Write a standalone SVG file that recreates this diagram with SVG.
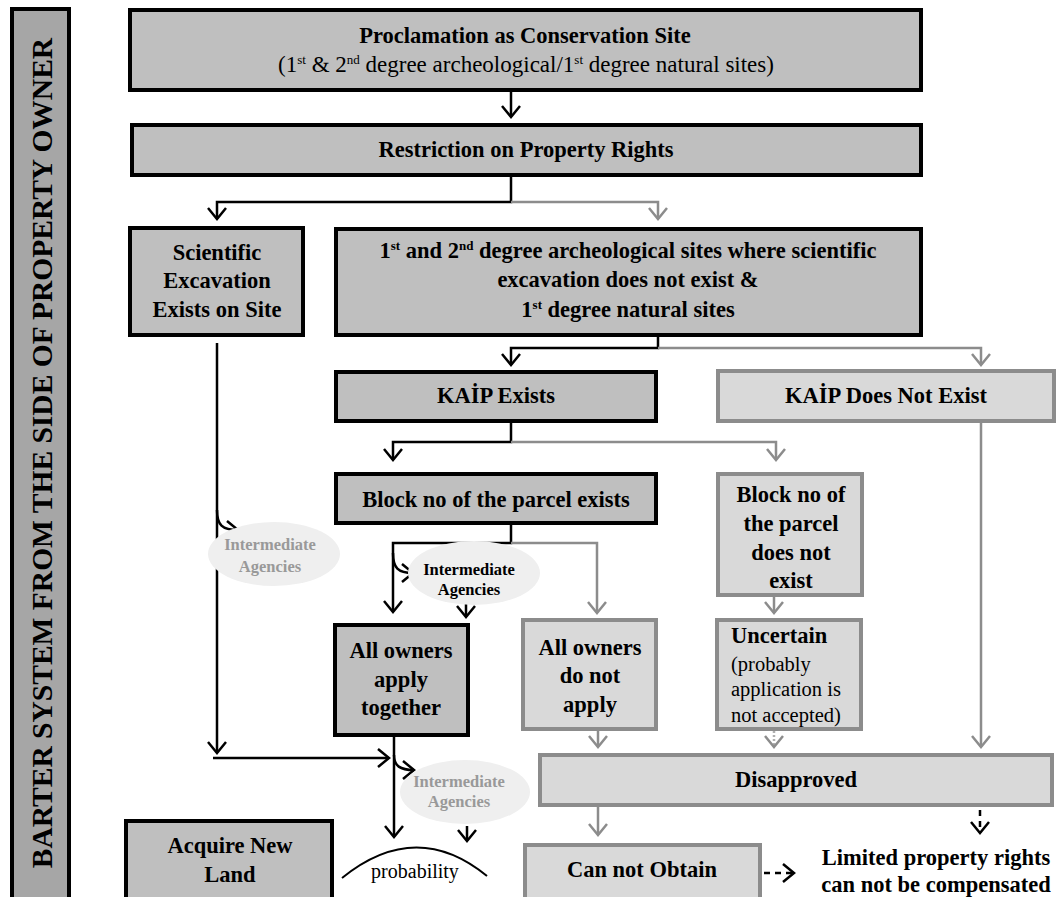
<svg xmlns="http://www.w3.org/2000/svg" width="1058" height="897" viewBox="0 0 1058 897" font-family="'Liberation Serif', 'Times New Roman', serif">
  <style>
    text { font-family: "Liberation Serif", "Times New Roman", serif; fill: #000; }
    .b { font-weight: bold; font-size: 22.5px; }
    .r { font-size: 23px; }
    .mid { text-anchor: middle; }
    .sup { font-size: 13px; }
    .dark { fill: #bfbfbf; stroke: #000; stroke-width: 4; }
    .light { fill: #d9d9d9; stroke: #8c8c8c; stroke-width: 4; }
    .side { fill: #a6a6a6; stroke: #000; stroke-width: 4; }
    .agency { fill: #efefef; stroke: none; }
    .ag-t { font-weight: bold; font-size: 16.5px; text-anchor: middle; }
    .ag-grey { fill: #999; }
    .k { fill: none; stroke: #000; stroke-width: 2.5; marker-end: url(#ak); }
    .g { fill: none; stroke: #8c8c8c; stroke-width: 2.5; marker-end: url(#ag); }
    .dot { stroke: #b0b0b0; stroke-dasharray: 2 2; }
    .dash { stroke-dasharray: 6 5; }
  </style>
  <defs>
    <marker id="ak" viewBox="-13 -11 15 22" refX="0" refY="0" markerWidth="15" markerHeight="22" markerUnits="userSpaceOnUse" orient="auto">
      <path d="M-11,-9 L0,0 L-11,9" fill="none" stroke="#000" stroke-width="2.5"/>
    </marker>
    <marker id="ag" viewBox="-13 -11 15 22" refX="0" refY="0" markerWidth="15" markerHeight="22" markerUnits="userSpaceOnUse" orient="auto">
      <path d="M-11,-9 L0,0 L-11,9" fill="none" stroke="#8c8c8c" stroke-width="2.5"/>
    </marker>
  </defs>

  <rect width="1058" height="897" fill="#fff"/>

  <!-- vertical title bar -->
  <g id="side-title">
    <rect class="side" x="12" y="9" width="57" height="900"/>
    <text class="b mid" style="font-size:29.5px" transform="translate(52,453) rotate(-90)">BARTER SYSTEM FROM THE SIDE OF PROPERTY OWNER</text>
  </g>

  <!-- connectors -->
  <g id="connectors">
    <path class="k" d="M511,92 V117"/>
    <path class="k" d="M511,177 V202 H217 V219"/>
    <path class="g" d="M511,202 H658 V219"/>
    <path class="k" d="M658,337 V348 H511 V365"/>
    <path class="g" d="M658,348 H981 V365"/>
    <path class="k" d="M511,423 V442 H393 V460"/>
    <path class="g" d="M511,442 H776 V460"/>
    <path class="g" d="M981,423 V747"/>
    <path class="k" d="M511,525 V543 H393 V612"/>
    <path class="g" d="M511,543 H597 V613"/>
    <path class="k" d="M393,553 C393,568 398,573 413,573"/>
    <path class="k" d="M466,604 V617"/>
    <path class="k" d="M217,343 V753"/>
    <path class="k" d="M217,510 C217,525 222,530 238,530"/>
    <path class="k" d="M213,758 H389"/>
    <path class="k" d="M394,737 V837"/>
    <path class="k" d="M394,755 C394,766 400,770 414,770"/>
    <path class="k" d="M467,826 V841"/>
    <path class="g" d="M774,597 V613"/>
    <path class="g" d="M598,731 V747"/>
    <path class="g dot" d="M774,731 V747"/>
    <path class="g" d="M598,807 V835"/>
    <path class="k dash" d="M980,810 V833"/>
    <path class="k dash" d="M764,873 H794"/>
    <path d="M342,878 Q416,818 487,876" fill="none" stroke="#000" stroke-width="2"/>
  </g>

  <g id="proclamation">
    <rect class="dark" x="130" y="10" width="791" height="80"/>
    <text class="b mid" x="525" y="43">Proclamation as Conservation Site</text>
    <text class="r mid" x="526" y="72">(1<tspan class="sup" dy="-8">st</tspan><tspan dy="8"> &amp; 2</tspan><tspan class="sup" dy="-8">nd</tspan><tspan dy="8"> degree archeological/1</tspan><tspan class="sup" dy="-8">st</tspan><tspan dy="8"> degree natural sites)</tspan></text>
  </g>

  <g id="restriction">
    <rect class="dark" x="132" y="125" width="789" height="50"/>
    <text class="b mid" x="526" y="157">Restriction on Property Rights</text>
  </g>

  <g id="scientific-excavation">
    <rect class="dark" x="130" y="228" width="173" height="107"/>
    <text class="b mid" x="217" y="260">Scientific</text>
    <text class="b mid" x="217" y="288">Excavation</text>
    <text class="b mid" x="217" y="317">Exists on Site</text>
  </g>

  <g id="no-excavation-sites">
    <rect class="dark" x="336" y="229" width="585" height="106"/>
    <text class="b mid" x="628" y="258">1<tspan class="sup" dy="-8">st</tspan><tspan dy="8"> and 2</tspan><tspan class="sup" dy="-8">nd</tspan><tspan dy="8"> degree archeological sites where scientific</tspan></text>
    <text class="b mid" x="628" y="287">excavation does not exist &amp;</text>
    <text class="b mid" x="628" y="317">1<tspan class="sup" dy="-8">st</tspan><tspan dy="8"> degree natural sites</tspan></text>
  </g>

  <g id="kaip-exists">
    <rect class="dark" x="336" y="372" width="320" height="49"/>
    <text class="b mid" x="496" y="403">KAİP Exists</text>
  </g>

  <g id="kaip-not-exist">
    <rect class="light" x="718" y="371" width="336" height="50"/>
    <text class="b mid" x="886" y="403">KAİP Does Not Exist</text>
  </g>

  <g id="block-exists">
    <rect class="dark" x="336" y="474" width="320" height="49"/>
    <text class="b mid" x="496" y="507">Block no of the parcel exists</text>
  </g>

  <g id="block-not-exist">
    <rect class="light" x="718" y="474" width="144" height="121"/>
    <text class="b mid" x="791" y="502">Block no of</text>
    <text class="b mid" x="791" y="531">the parcel</text>
    <text class="b mid" x="791" y="560">does not</text>
    <text class="b mid" x="791" y="588">exist</text>
  </g>

  <g id="agencies-1">
    <ellipse class="agency" cx="274" cy="554" rx="66" ry="32"/>
    <text class="ag-t ag-grey" x="270" y="550">Intermediate</text>
    <text class="ag-t ag-grey" x="270" y="572">Agencies</text>
  </g>

  <g id="agencies-2">
    <ellipse class="agency" cx="474" cy="573" rx="66" ry="32"/>
    <text class="ag-t" x="469" y="575">Intermediate</text>
    <text class="ag-t" x="469" y="595">Agencies</text>
  </g>

  <g id="owners-apply">
    <rect class="dark" x="335" y="625" width="133" height="110"/>
    <text class="b mid" x="401" y="658">All owners</text>
    <text class="b mid" x="401" y="687">apply</text>
    <text class="b mid" x="401" y="715">together</text>
  </g>

  <g id="owners-not-apply">
    <rect class="light" x="523" y="620" width="133" height="109"/>
    <text class="b mid" x="590" y="655">All owners</text>
    <text class="b mid" x="590" y="683">do not</text>
    <text class="b mid" x="590" y="712">apply</text>
  </g>

  <g id="uncertain">
    <rect class="light" x="717" y="620" width="144" height="109"/>
    <text class="b" x="731" y="643">Uncertain</text>
    <text style="font-size:20.5px" x="731" y="671">(probably</text>
    <text style="font-size:20.5px" x="731" y="696">application is</text>
    <text style="font-size:20.5px" x="731" y="722">not accepted)</text>
  </g>

  <g id="agencies-3">
    <ellipse class="agency" cx="465" cy="792" rx="65" ry="32"/>
    <text class="ag-t ag-grey" x="459" y="787">Intermediate</text>
    <text class="ag-t ag-grey" x="459" y="807">Agencies</text>
  </g>

  <g id="disapproved">
    <rect class="light" x="540" y="755" width="512" height="50"/>
    <text class="b mid" x="796" y="787">Disapproved</text>
  </g>

  <g id="acquire-land">
    <rect class="dark" x="126" y="821" width="206" height="90"/>
    <text class="b mid" x="230" y="853">Acquire New</text>
    <text class="b mid" x="230" y="882">Land</text>
  </g>

  <g id="probability">
    <text class="mid" style="font-size:20px" x="415" y="878">probability</text>
  </g>

  <g id="can-not-obtain">
    <rect class="light" x="525" y="845" width="235" height="70"/>
    <text class="b mid" x="642" y="877">Can not Obtain</text>
  </g>

  <g id="limited-rights">
    <text class="b mid" x="936" y="865">Limited property rights</text>
    <text class="b mid" x="936" y="892">can not be compensated</text>
  </g>
</svg>
